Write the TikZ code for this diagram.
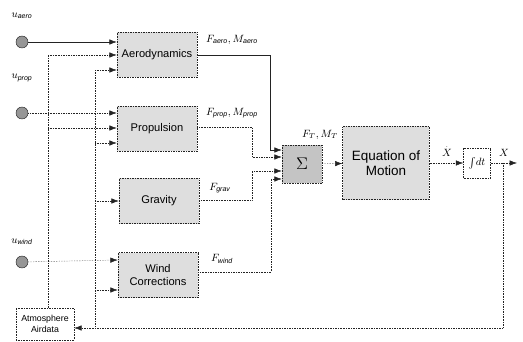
\documentclass[tikz,border=0pt]{standalone}
\usepackage{amsmath}
\usepackage{fontspec}
\setmainfont{Liberation Sans}
\usetikzlibrary{positioning, shapes, arrows.meta}
\definecolor{BlockGray}{RGB}{222,222,222}
\definecolor{SumGray}{RGB}{196,196,196}
\definecolor{InputGray}{RGB}{150,150,150}
\definecolor{LineGray}{RGB}{35,35,35}

\begin{document}
\begin{tikzpicture}[x=0.3mm, y=-0.3mm, font=\fontsize{9.5}{11}\selectfont,
    block/.style={draw=LineGray, densely dotted, fill=BlockGray, minimum width=24mm, minimum height=13.5mm, align=center},
    source/.style={circle, draw=LineGray, fill=InputGray, minimum size=3.6mm, inner sep=0pt},
    link/.style={densely dotted, LineGray, -{Latex[length=2.2mm, width=1.6mm]}},
    wire/.style={densely dotted, LineGray},
    lbl/.style={font=\fontsize{9}{10}\selectfont, inner sep=1pt}]
    \useasboundingbox (0,0) rectangle (523,342);

    % Inputs
    \node[source] (uaero) at (22,42) {};
    \node[source] (uprop) at (22,113) {};
    \node[source] (uwind) at (22,262) {};
    \node[lbl] (laero) at (22,16) {$u_{\mathit{aero}}$};
    \node[lbl] (lprop) at (22,78) {$u_{\mathit{prop}}$};
    \node[lbl] (lwind) at (22,242) {$u_{\mathit{wind}}$};

    % Blocks
    \node[block] (aero) at (157,55) {Aerodynamics};
    \node[block] (prop) at (157,129) {Propulsion};
    \node[block] (grav) at (159,201) {Gravity};
    \node[block] (wind) at (158,275) {Wind\\Corrections};
    \node[block, fill=SumGray, minimum width=12mm, minimum height=11.4mm, font=\Large] (sum) at (302,164) {$\Sigma$};
    \node[block, minimum width=26mm, minimum height=22mm, font=\fontsize{11.5}{13}\selectfont] (eom) at (386,163) {Equation of\\Motion};
    \node[block, fill=white, minimum width=8.1mm, minimum height=9mm, inner sep=1pt] (integ) at (477,163) {$\int\! dt$};
    \node[block, fill=white, minimum width=17.4mm, minimum height=9.6mm, font=\fontsize{7.5}{9}\selectfont] (atm) at (45,324) {Atmosphere\\Airdata};

    % Bus lines
    \coordinate (busa) at (48,55);
    \coordinate (busb) at (95,70);
    \coordinate (fb) at (95,328);
    \coordinate (xout) at (517,163);
    \coordinate (xtap) at (503,163);

    % Input connections
    \draw[link, solid] (uaero) -- (aero.west |- uaero);
    \draw[link] (uprop) -- (prop.west |- uprop);
    \draw[link] (uwind) -- (wind.west |- 0,260);
    \draw[wire] (atm.north -| busa) -- (busa);
    \draw[link] (busa) -- (aero.west |- busa);
    \draw[link] (busa |- 0,128) -- (prop.west |- 0,128);
    \draw[wire] (fb) -- (busb);
    \draw[link] (busb) -- (aero.west |- busb);
    \draw[link] (busb |- 0,143) -- (prop.west |- 0,143);
    \draw[link] (busb |- grav) -- (grav.west);
    \draw[link] (busb |- 0,290) -- (wind.west |- 0,290);

    % Forces and moments
    \draw[link, solid] (aero.east) -- (270,55) -- (270,150) -- (sum.west |- 0,150);
    \draw[link] (prop.east |- 0,127) -- (252,127) -- (252,157) -- (sum.west |- 0,157);
    \draw[link] (grav.east |- 0,200) -- (252,200) -- (252,171) -- (sum.west |- 0,171);
    \draw[link] (wind.east |- 0,272) -- (271,272) -- (271,179) -- (sum.west |- 0,179);
    \node[lbl] (faero) at (232,40) {$F_{\mathit{aero}},M_{\mathit{aero}}$};
    \node[lbl] (fprop) at (232,113) {$F_{\mathit{prop}},M_{\mathit{prop}}$};
    \node[lbl] (fgrav) at (220,188) {$F_{\mathit{grav}}$};
    \node[lbl] (fwind) at (222,259) {$F_{\mathit{wind}}$};

    % Motion
    \draw[link] (sum) -- (eom);
    \draw[link] (eom) -- (integ);
    \draw[link] (integ) -- (xout);
    \node[lbl] (ftot) at (320,135) {$F_T,M_T$};
    \node[lbl, anchor=south] (xdot) at (447,158) {$\overset{.}{X}$};
    \node[lbl, anchor=south] (xstate) at (504,158) {$X$};

    % Feedback
    \draw[link] (xtap) -- (503,328) -- (atm.east |- fb);
\end{tikzpicture}
\end{document}
